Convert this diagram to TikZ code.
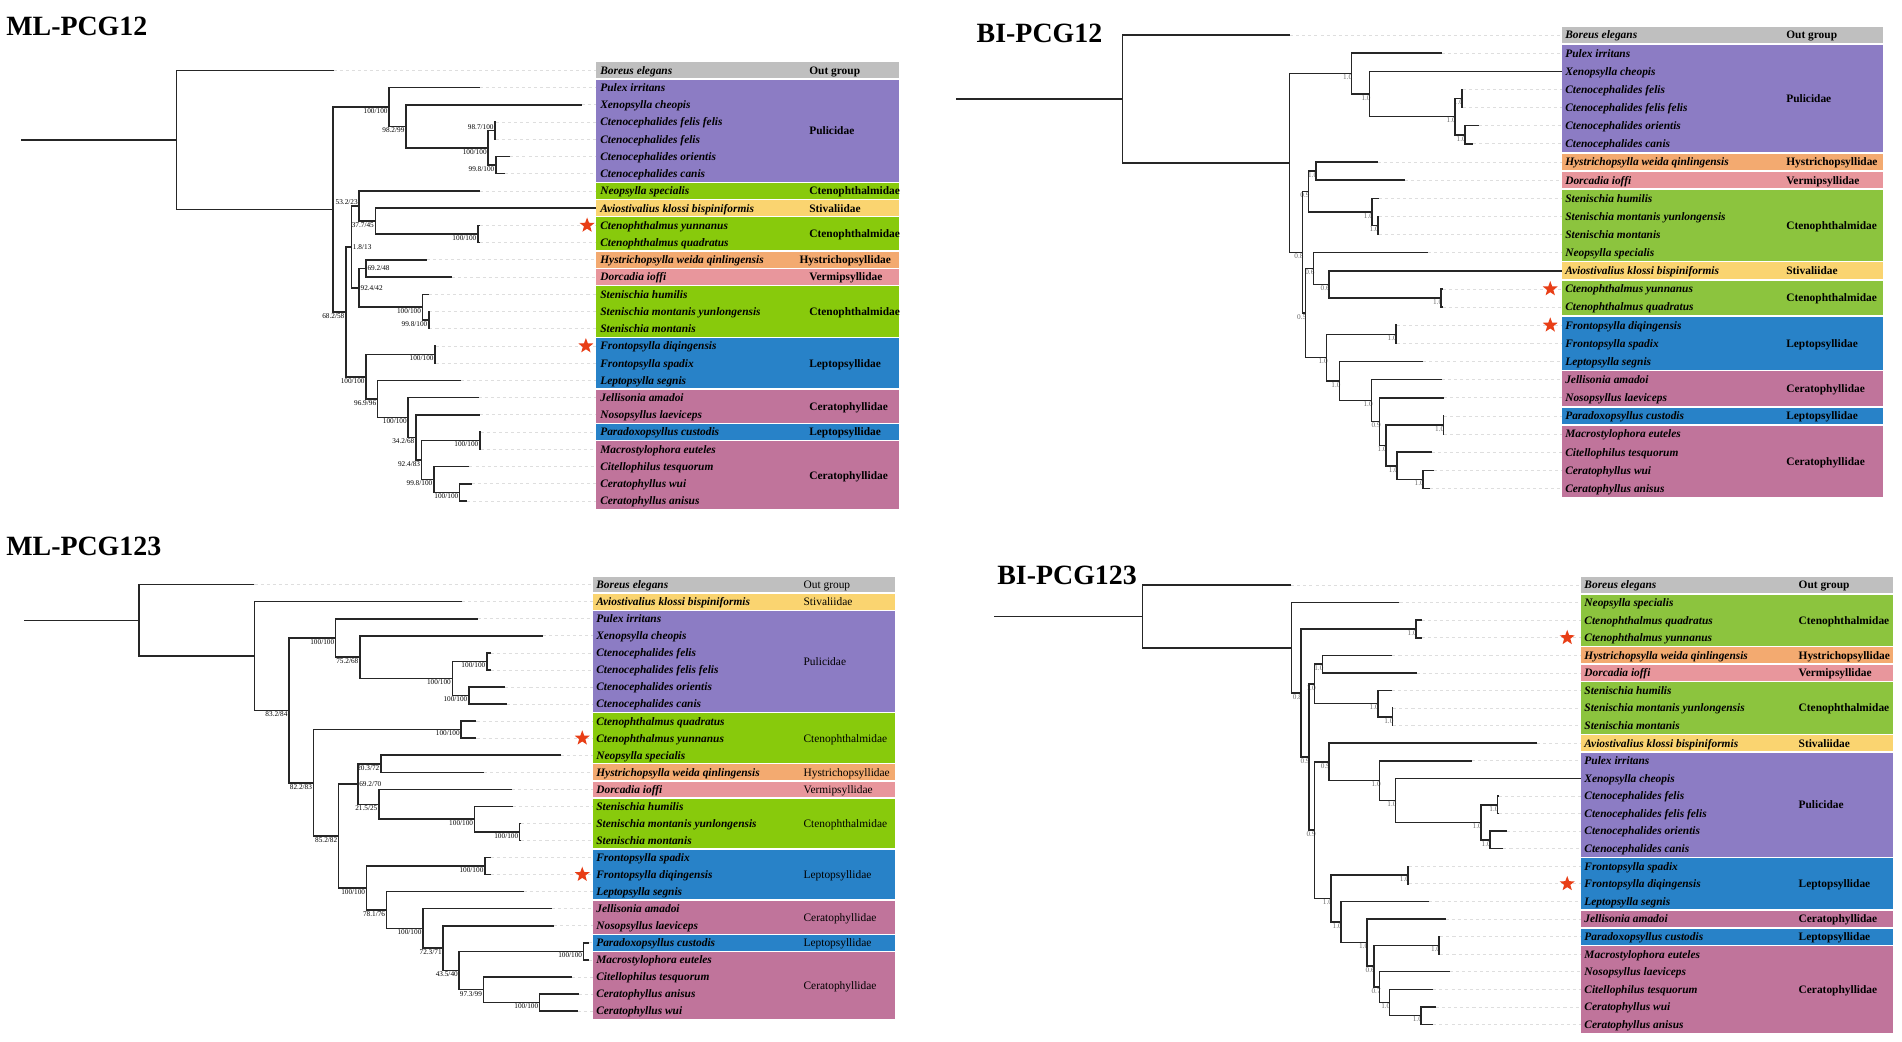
\documentclass[tikz,border=0pt]{standalone}
\usepackage{fontspec}
\setmainfont{Liberation Serif}
\usetikzlibrary{calc,shapes.geometric}

\definecolor{ogray}{RGB}{191,191,191}
\definecolor{puli}{RGB}{140,124,196}
\definecolor{ctenoM}{RGB}{136,202,12}
\definecolor{ctenoB}{RGB}{140,196,62}
\definecolor{stiv}{RGB}{250,212,112}
\definecolor{hyst}{RGB}{243,170,112}
\definecolor{verm}{RGB}{232,150,156}
\definecolor{lepto}{RGB}{40,130,200}
\definecolor{cerat}{RGB}{192,116,155}
\definecolor{starred}{RGB}{232,62,22}

\tikzset{
  branch/.style={draw=black!85, line width=1.25pt},
  lead/.style={draw=black!13, line width=0.6pt, dash pattern=on 2.5pt off 2.5pt},
  mlv/.style={font=\fontsize{6}{6}\selectfont, inner sep=1pt},
  biv/.style={font=\fontsize{6}{6}\selectfont, text=black!60, inner sep=1pt, xshift=2pt},
  taxon/.style={anchor=base west, inner sep=0pt, yshift=-3.2pt,
    font=\fontsize{9.4}{10}\selectfont\bfseries\itshape},
  fam/.style={anchor=base west, inner sep=0pt, yshift=-3.2pt,
    font=\fontsize{9.4}{10}\selectfont\bfseries},
  famlight/.style={fam, font=\fontsize{9.4}{10}\selectfont},
  title/.style={anchor=base west, inner sep=0pt, font=\fontsize{23}{23}\selectfont\bfseries},
  redstar/.style={star, star points=5, star point ratio=2.4, fill=starred,
    minimum size=13pt, inner sep=0pt}
}

% tip: name, end x, row
\newcommand\tip[3]{\coordinate (#1) at (#2,{\yo+\dy*#3});
  \draw[lead] (#1) -- (#1 -| \pn-edge);}
% node without support value: name, x, child, child
\newcommand\hang[4]{%
  \path let \p1=($(#3)!.5!(#4)$), \p2=(#2,0) in coordinate (#1) at (\x2,\y1);
  \draw[branch] (#3) -| (#1) |- (#4);}
% node with support value: [anchor] name, x, child, child, value
\newcommand\clade[6][north east]{%
  \path let \p1=($(#4)!.5!(#5)$), \p2=(#3,0) in coordinate (#2) at (\x2,\y1);
  \node[sv, anchor=#1] (#2-s) at (#2) {#6};
  \draw[branch] (#4) -| (#2) |- (#5);}
% coloured band of the table: [label opts] first row, last row, colour, family
\newcommand\band[5][]{%
  \fill[#4] (\tabL,{\yo+\dy*(#2-0.5)+0.6}) rectangle (\tabR,{\yo+\dy*(#3+0.5)-0.6});
  \node[fm,#1] (\pn-f#2) at (\famX,{\yo+\dy*(#2+#3)/2}) {#5};}

\begin{document}
\begin{tikzpicture}[x=1pt, y=-1pt]
\useasboundingbox (0,0) rectangle (1568,859);

% ---------------- ML-PCG12 ----------------
\begin{scope}[sv/.style=mlv, fm/.style=fam]
  \def\pn{a}\def\yo{58}\def\dy{14.2}
  \def\tabL{491}\def\tabR{741}\def\txtX{494.7}\def\famX{667}
  \node[title] (a-title) at (5,29) {ML-PCG12};
  \coordinate (a-edge) at (\tabL,0);
  \coordinate (a-stem) at (17,0);
  \tip{a0}{275}{0}    \tip{a1}{395.5}{1}  \tip{a2}{479.7}{2}  \tip{a3}{409}{3}
  \tip{a4}{409}{4}    \tip{a5}{420.7}{5}  \tip{a6}{416}{6}    \tip{a7}{395.5}{7}
  \tip{a8}{491}{8}    \tip{a9}{395.5}{9}  \tip{a10}{395.5}{10} \tip{a11}{352}{11}
  \tip{a12}{372.8}{12} \tip{a13}{353.5}{13} \tip{a14}{354}{14} \tip{a15}{354}{15}
  \tip{a16}{359}{16}  \tip{a17}{359}{17}  \tip{a18}{379.7}{18} \tip{a19}{394.5}{19}
  \tip{a20}{395.5}{20} \tip{a21}{396.4}{21} \tip{a22}{396.4}{22} \tip{a23}{387}{23}
  \tip{a24}{389}{24}  \tip{a25}{385}{25}
  \clade[south east]{aP4}{408.1}{a3}{a4}{98.7/100}
  \clade{aP5}{408.7}{a5}{a6}{99.8/100}
  \clade{aP3}{402.4}{aP4}{aP5}{100/100}
  \clade{aP2}{334.6}{a2}{aP3}{98.2/99}
  \clade{aP1}{320.7}{a1}{aP2}{100/100}
  \clade{aA5}{393.9}{a9}{a10}{100/100}
  \clade{aA4}{309.4}{a8}{aA5}{37.7/45}
  \clade[south east]{aA3}{296.1}{a7}{aA4}{53.2/23}
  \clade[west]{aB2}{301.8}{a11}{a12}{69.2/48}
  \clade{aB4}{353.5}{a14}{a15}{99.8/100}
  \clade{aB3}{348.2}{a13}{aB4}{100/100}
  \clade[west]{aB1}{296.1}{aB2}{aB3}{92.4/42}
  \clade[west]{aA2}{289.8}{aA3}{aB1}{1.8/13}
  \clade{aC2}{358.6}{a16}{a17}{100/100}
  \clade{aC9}{379}{a24}{a25}{100/100}
  \clade{aC8}{357.6}{a23}{aC9}{99.8/100}
  \clade{aC7}{395.5}{a21}{a22}{100/100}
  \clade{aC6}{347.5}{aC7}{aC8}{92.4/83}
  \clade{aC5}{342.8}{a20}{aC6}{34.2/68}
  \clade{aC4}{336.5}{a19}{aC5}{100/100}
  \clade{aC3}{311.3}{a18}{aC4}{96.9/96}
  \clade{aC1}{301.8}{aC2}{aC3}{100/100}
  \clade{aA1}{285.1}{aA2}{aC1}{68.2/58}
  \hang{aI1}{274.7}{aP1}{aA1}
  \hang{aR}{145.7}{a0}{aI1}
  \draw[branch] (aR) -- (aR -| a-stem);
  % table
  \band{0}{0}{ogray}{Out group}
  \band{1}{6}{puli}{Pulicidae}
  \band{7}{7}{ctenoM}{Ctenophthalmidae}
  \band{8}{8}{stiv}{Stivaliidae}
  \band{9}{10}{ctenoM}{Ctenophthalmidae}
  \band[xshift=-8pt]{11}{11}{hyst}{Hystrichopsyllidae}
  \band{12}{12}{verm}{Vermipsyllidae}
  \band{13}{15}{ctenoM}{Ctenophthalmidae}
  \band{16}{18}{lepto}{Leptopsyllidae}
  \band{19}{20}{cerat}{Ceratophyllidae}
  \band{21}{21}{lepto}{Leptopsyllidae}
  \band{22}{25}{cerat}{Ceratophyllidae}
  \foreach \t [count=\i from 0] in {Boreus elegans, Pulex irritans, Xenopsylla cheopis,
      Ctenocephalides felis felis, Ctenocephalides felis, Ctenocephalides orientis,
      Ctenocephalides canis, Neopsylla specialis, Aviostivalius klossi bispiniformis,
      Ctenophthalmus yunnanus, Ctenophthalmus quadratus, Hystrichopsylla weida qinlingensis,
      Dorcadia ioffi, Stenischia humilis, Stenischia montanis yunlongensis,
      Stenischia montanis, Frontopsylla diqingensis, Frontopsylla spadix,
      Leptopsylla segnis, Jellisonia amadoi, Nosopsyllus laeviceps,
      Paradoxopsyllus custodis, Macrostylophora euteles, Citellophilus tesquorum,
      Ceratophyllus wui, Ceratophyllus anisus}
    \node[taxon] (\pn-t\i) at (\txtX,{\yo+\dy*\i}) {\t};
  \node[redstar] (a-s1) at (484,{\yo+\dy*9}) {};
  \node[redstar] (a-s2) at (483,{\yo+\dy*16}) {};
\end{scope}

% ---------------- BI-PCG12 ----------------
\begin{scope}[sv/.style=biv, fm/.style=fam]
  \def\pn{b}\def\yo{28.9}\def\dy{14.95}
  \def\tabL{1287.5}\def\tabR{1552.6}\def\txtX{1290.2}\def\famX{1472.4}
  \node[title] (b-title) at (805,35) {BI-PCG12};
  \coordinate (b-edge) at (\tabL,0);
  \coordinate (b-stem) at (788,0);
  \tip{b0}{1063.6}{0}  \tip{b1}{1188.8}{1}  \tip{b2}{1287.5}{2}  \tip{b3}{1206}{3}
  \tip{b4}{1206}{4}    \tip{b5}{1219.2}{5}  \tip{b6}{1214.6}{6}  \tip{b7}{1135.8}{7}
  \tip{b8}{1158}{8}    \tip{b9}{1136.8}{9}  \tip{b10}{1136.4}{10} \tip{b11}{1136.4}{11}
  \tip{b12}{1177.2}{12} \tip{b13}{1287.5}{13} \tip{b14}{1189.4}{14} \tip{b15}{1189.4}{15}
  \tip{b16}{1151.7}{16} \tip{b17}{1151.7}{17} \tip{b18}{1173.2}{18} \tip{b19}{1188.8}{19}
  \tip{b20}{1190.4}{20} \tip{b21}{1190.7}{21} \tip{b22}{1190.7}{22} \tip{b23}{1180.5}{23}
  \tip{b24}{1182}{24}  \tip{b25}{1178.8}{25}
  \clade{bP4}{1205.3}{b3}{b4}{1.0}
  \clade{bP5}{1207.6}{b5}{b6}{1.0}
  \clade{bP3}{1199.3}{bP4}{bP5}{1.0}
  \clade{bP2}{1129.1}{b2}{bP3}{1.0}
  \clade{bP1}{1114}{b1}{bP2}{1.0}
  \clade{bX4}{1085.1}{b7}{b8}{1.0}
  \clade{bX6}{1135.8}{b10}{b11}{1.0}
  \clade{bX5}{1131.1}{b9}{bX6}{1.0}
  \clade{bX2}{1078.8}{bX4}{bX5}{0.9}
  \clade{bN3}{1188.1}{b14}{b15}{1.0}
  \clade{bN2}{1095.4}{b13}{bN3}{0.6}
  \clade{bN1}{1082.8}{b12}{bN2}{0.6}
  \clade{bC2}{1150.7}{b16}{b17}{1.0}
  \clade{bC9}{1172.9}{b24}{b25}{1.0}
  \clade{bC8}{1151.7}{b23}{bC9}{1.0}
  \clade{bC7}{1189.8}{b21}{b22}{1.0}
  \clade{bC6}{1142.4}{bC7}{bC8}{1.0}
  \clade{bC5}{1137.4}{b20}{bC6}{0.9}
  \clade{bC4}{1130.8}{b19}{bC5}{1.0}
  \clade{bC3}{1104.3}{b18}{bC4}{1.0}
  \clade{bC1}{1093.7}{bC2}{bC3}{1.0}
  \clade{bZ}{1076.1}{bN1}{bC1}{0.5}
  \clade{bY}{1073.8}{bX2}{bZ}{0.8}
  \hang{bI1}{1062.9}{bP1}{bY}
  \hang{bR}{925.4}{b0}{bI1}
  \draw[branch] (bR) -- (bR -| b-stem);
  % table
  \band{0}{0}{ogray}{Out group}
  \band{1}{6}{puli}{Pulicidae}
  \band{7}{7}{hyst}{Hystrichopsyllidae}
  \band{8}{8}{verm}{Vermipsyllidae}
  \band{9}{12}{ctenoB}{Ctenophthalmidae}
  \band{13}{13}{stiv}{Stivaliidae}
  \band{14}{15}{ctenoB}{Ctenophthalmidae}
  \band{16}{18}{lepto}{Leptopsyllidae}
  \band{19}{20}{cerat}{Ceratophyllidae}
  \band{21}{21}{lepto}{Leptopsyllidae}
  \band{22}{25}{cerat}{Ceratophyllidae}
  \foreach \t [count=\i from 0] in {Boreus elegans, Pulex irritans, Xenopsylla cheopis,
      Ctenocephalides felis, Ctenocephalides felis felis, Ctenocephalides orientis,
      Ctenocephalides canis, Hystrichopsylla weida qinlingensis, Dorcadia ioffi,
      Stenischia humilis, Stenischia montanis yunlongensis, Stenischia montanis,
      Neopsylla specialis, Aviostivalius klossi bispiniformis, Ctenophthalmus yunnanus,
      Ctenophthalmus quadratus, Frontopsylla diqingensis, Frontopsylla spadix,
      Leptopsylla segnis, Jellisonia amadoi, Nosopsyllus laeviceps,
      Paradoxopsyllus custodis, Macrostylophora euteles, Citellophilus tesquorum,
      Ceratophyllus wui, Ceratophyllus anisus}
    \node[taxon] (\pn-t\i) at (\txtX,{\yo+\dy*\i}) {\t};
  \node[redstar] (b-s1) at (1278,{\yo+\dy*14}) {};
  \node[redstar] (b-s2) at (1278,{\yo+\dy*16}) {};
\end{scope}

% ---------------- ML-PCG123 ----------------
\begin{scope}[sv/.style=mlv, fm/.style=famlight]
  \def\pn{c}\def\yo{482}\def\dy{14.06}
  \def\tabL{488.6}\def\tabR{738}\def\txtX{491.4}\def\famX{662.3}
  \node[title] (c-title) at (5,458) {ML-PCG123};
  \coordinate (c-edge) at (\tabL,0);
  \coordinate (c-stem) at (19.9,0);
  \tip{c0}{209.8}{0}   \tip{c1}{381.1}{1}   \tip{c2}{393.7}{2}   \tip{c3}{447.4}{3}
  \tip{c4}{404.5}{4}   \tip{c5}{404.5}{5}   \tip{c6}{416.5}{6}   \tip{c7}{418.3}{7}
  \tip{c8}{392.8}{8}   \tip{c9}{392.8}{9}   \tip{c10}{462.2}{10} \tip{c11}{399.1}{11}
  \tip{c12}{422.1}{12} \tip{c13}{422.8}{13} \tip{c14}{429.7}{14} \tip{c15}{429.7}{15}
  \tip{c16}{404.5}{16} \tip{c17}{404.5}{17} \tip{c18}{431.6}{18} \tip{c19}{454.9}{19}
  \tip{c20}{456.8}{20} \tip{c21}{485.9}{21} \tip{c22}{485.9}{22} \tip{c23}{471.7}{23}
  \tip{c24}{477}{24}   \tip{c25}{476.4}{25}
  \clade{cP4}{401.3}{c4}{c5}{100/100}
  \clade{cP5}{386.5}{c6}{c7}{100/100}
  \clade{cP3}{372.9}{cP4}{cP5}{100/100}
  \clade{cP2}{296.6}{c3}{cP3}{75.2/68}
  \clade{cP1}{276.7}{c2}{cP2}{100/100}
  \clade{cX2}{380.2}{c8}{c9}{100/100}
  \clade{cX5}{313.9}{c10}{c11}{20.3/72}
  \clade{cX8}{428.4}{c14}{c15}{100/100}
  \clade{cX7}{391.2}{c13}{cX8}{100/100}
  \clade{cX6}{312.3}{c12}{cX7}{21.5/25}
  \clade[west]{cX4}{295}{cX5}{cX6}{69.2/70}
  \clade{cC2}{399.7}{c16}{c17}{100/100}
  \clade{cC9}{444.9}{c24}{c25}{100/100}
  \clade{cC8}{398.5}{c23}{cC9}{97.3/99}
  \clade{cC7}{481.1}{c21}{c22}{100/100}
  \clade{cC6}{378.6}{cC7}{cC8}{43.5/40}
  \clade{cC5}{365.3}{c20}{cC6}{72.3/71}
  \clade{cC4}{348.6}{c19}{cC5}{100/100}
  \clade{cC3}{318.7}{c18}{cC4}{78.1/76}
  \clade{cC1}{302.2}{cC2}{cC3}{100/100}
  \clade{cX3}{279.2}{cX4}{cC1}{85.2/82}
  \clade{cX1}{258.4}{cX2}{cX3}{82.2/83}
  \clade{cI2}{238.2}{cP1}{cX1}{83.2/84}
  \hang{cI1}{209.8}{c1}{cI2}
  \hang{cR}{114.5}{c0}{cI1}
  \draw[branch] (cR) -- (cR -| c-stem);
  % table
  \band{0}{0}{ogray}{Out group}
  \band{1}{1}{stiv}{Stivaliidae}
  \band{2}{7}{puli}{Pulicidae}
  \band{8}{10}{ctenoM}{Ctenophthalmidae}
  \band{11}{11}{hyst}{Hystrichopsyllidae}
  \band{12}{12}{verm}{Vermipsyllidae}
  \band{13}{15}{ctenoM}{Ctenophthalmidae}
  \band{16}{18}{lepto}{Leptopsyllidae}
  \band{19}{20}{cerat}{Ceratophyllidae}
  \band{21}{21}{lepto}{Leptopsyllidae}
  \band{22}{25}{cerat}{Ceratophyllidae}
  \foreach \t [count=\i from 0] in {Boreus elegans, Aviostivalius klossi bispiniformis,
      Pulex irritans, Xenopsylla cheopis, Ctenocephalides felis,
      Ctenocephalides felis felis, Ctenocephalides orientis, Ctenocephalides canis,
      Ctenophthalmus quadratus, Ctenophthalmus yunnanus, Neopsylla specialis,
      Hystrichopsylla weida qinlingensis, Dorcadia ioffi, Stenischia humilis,
      Stenischia montanis yunlongensis, Stenischia montanis, Frontopsylla spadix,
      Frontopsylla diqingensis, Leptopsylla segnis, Jellisonia amadoi,
      Nosopsyllus laeviceps, Paradoxopsyllus custodis, Macrostylophora euteles,
      Citellophilus tesquorum, Ceratophyllus anisus, Ceratophyllus wui}
    \node[taxon] (\pn-t\i) at (\txtX,{\yo+\dy*\i}) {\t};
  \node[redstar] (c-s1) at (480,{\yo+\dy*9}) {};
  \node[redstar] (c-s2) at (480,{\yo+\dy*17}) {};
\end{scope}

% ---------------- BI-PCG123 ----------------
\begin{scope}[sv/.style=biv, fm/.style=fam]
  \def\pn{d}\def\yo{482.3}\def\dy{14.49}
  \def\tabL{1303.4}\def\tabR{1560.4}\def\txtX{1306}\def\famX{1482.6}
  \node[title] (d-title) at (822,482) {BI-PCG123};
  \coordinate (d-edge) at (\tabL,0);
  \coordinate (d-stem) at (819.1,0);
  \tip{d0}{1064.5}{0}  \tip{d1}{1153.7}{1}  \tip{d2}{1172}{2}    \tip{d3}{1172}{3}
  \tip{d4}{1147.9}{4}  \tip{d5}{1167.8}{5}  \tip{d6}{1147.3}{6}  \tip{d7}{1148.6}{7}
  \tip{d8}{1148.6}{8}  \tip{d9}{1267.3}{9}  \tip{d10}{1213.1}{10} \tip{d11}{1303.4}{11}
  \tip{d12}{1235.5}{12} \tip{d13}{1235.5}{13} \tip{d14}{1242}{14} \tip{d15}{1239.4}{15}
  \tip{d16}{1161.7}{16} \tip{d17}{1161.7}{17} \tip{d18}{1178.4}{18} \tip{d19}{1191.9}{19}
  \tip{d20}{1187.4}{20} \tip{d21}{1187.4}{21} \tip{d22}{1195.1}{22} \tip{d23}{1181.6}{23}
  \tip{d24}{1183.9}{24} \tip{d25}{1181.6}{25}
  \clade{dX2}{1167.2}{d2}{d3}{1.0}
  \clade{dX4}{1090.2}{d4}{d5}{1.0}
  \clade{dX6}{1147.9}{d7}{d8}{1.0}
  \clade{dX5}{1135.8}{d6}{dX6}{1.0}
  \clade{dX3}{1083.8}{dX4}{dX5}{1.0}
  \clade{dP4}{1234.6}{d12}{d13}{1.0}
  \clade{dP5}{1228.2}{d14}{d15}{1.0}
  \clade{dP3}{1220.8}{dP4}{dP5}{1.0}
  \clade{dP2}{1150.5}{d11}{dP3}{1.0}
  \clade{dP1}{1137.4}{d10}{dP2}{1.0}
  \clade{dY1}{1095.7}{d9}{dP1}{0.9}
  \clade{dC2}{1160.8}{d16}{d17}{1.0}
  \clade{dC6}{1186.4}{d20}{d21}{1.0}
  \clade{dC9}{1171.4}{d24}{d25}{1.0}
  \clade{dC8}{1145.4}{d23}{dC9}{1.0}
  \clade{dC7}{1137.4}{d22}{dC8}{0.7}
  \clade{dC5}{1132.6}{dC6}{dC7}{0.6}
  \clade{dC4}{1127.1}{d19}{dC5}{1.0}
  \clade{dC3}{1105.3}{d18}{dC4}{1.0}
  \clade{dC1}{1097.3}{dC2}{dC3}{1.0}
  \clade{dI4}{1083.8}{dY1}{dC1}{0.9}
  \clade{dI3}{1079}{dX3}{dI4}{0.9}
  \clade{dI2}{1072.6}{dX2}{dI3}{0.8}
  \hang{dI1}{1064.5}{d1}{dI2}
  \hang{dR}{941.7}{d0}{dI1}
  \draw[branch] (dR) -- (dR -| d-stem);
  % table
  \band{0}{0}{ogray}{Out group}
  \band{1}{3}{ctenoB}{Ctenophthalmidae}
  \band{4}{4}{hyst}{Hystrichopsyllidae}
  \band{5}{5}{verm}{Vermipsyllidae}
  \band{6}{8}{ctenoB}{Ctenophthalmidae}
  \band{9}{9}{stiv}{Stivaliidae}
  \band{10}{15}{puli}{Pulicidae}
  \band{16}{18}{lepto}{Leptopsyllidae}
  \band{19}{19}{cerat}{Ceratophyllidae}
  \band{20}{20}{lepto}{Leptopsyllidae}
  \band{21}{25}{cerat}{Ceratophyllidae}
  \foreach \t [count=\i from 0] in {Boreus elegans, Neopsylla specialis,
      Ctenophthalmus quadratus, Ctenophthalmus yunnanus,
      Hystrichopsylla weida qinlingensis, Dorcadia ioffi, Stenischia humilis,
      Stenischia montanis yunlongensis, Stenischia montanis,
      Aviostivalius klossi bispiniformis, Pulex irritans, Xenopsylla cheopis,
      Ctenocephalides felis, Ctenocephalides felis felis, Ctenocephalides orientis,
      Ctenocephalides canis, Frontopsylla spadix, Frontopsylla diqingensis,
      Leptopsylla segnis, Jellisonia amadoi, Paradoxopsyllus custodis,
      Macrostylophora euteles, Nosopsyllus laeviceps, Citellophilus tesquorum,
      Ceratophyllus wui, Ceratophyllus anisus}
    \node[taxon] (\pn-t\i) at (\txtX,{\yo+\dy*\i}) {\t};
  \node[redstar] (d-s1) at (1292,{\yo+\dy*3}) {};
  \node[redstar] (d-s2) at (1292,{\yo+\dy*17}) {};
\end{scope}
\end{tikzpicture}
\end{document}
